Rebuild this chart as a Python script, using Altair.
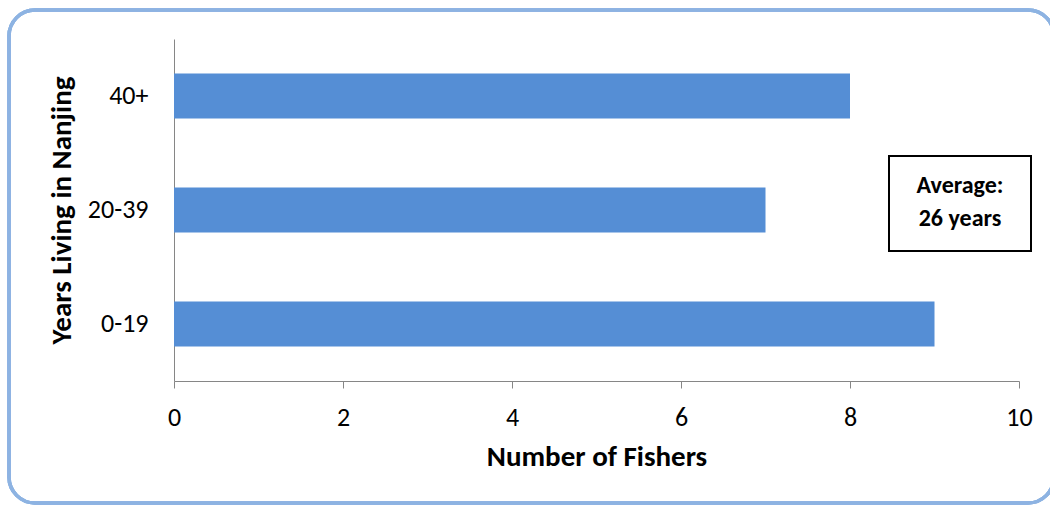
import altair as alt
import pandas as pd

# Fishers grouped by how long they have lived in Nanjing
groups = ["40+", "20-39", "0-19"]
fishers = [8, 7, 9]
avg_lines = ["Average:", "26 years"]

df = pd.DataFrame({"group": groups, "count": fishers})

FONT = "Carlito, Lato, sans-serif"
BAR = "#558ED5"
AXIS = "#868686"

W, H = 845, 342
LEFT, TOP = 174, 39

bars = alt.Chart(df).mark_bar(color=BAR, size=45).encode(
    x=alt.X("count:Q",
            scale=alt.Scale(domain=[0, 10]),
            axis=alt.Axis(title="Number of Fishers", values=[0, 2, 4, 6, 8, 10],
                          grid=False, tickSize=7, tickColor=AXIS, domainColor=AXIS,
                          labelFlush=False, labelFont=FONT,
                          labelFontSize=26, labelColor="black", labelPadding=16,
                          titleFont=FONT,
                          titleFontSize=29, titleFontWeight="bold", titleColor="black",
                          titlePadding=12)),
    y=alt.Y("group:N", sort=groups,
            axis=alt.Axis(title="Years Living in Nanjing", ticks=False, domainColor=AXIS,
                          labelFont=FONT,
                          labelFontSize=26, labelColor="black", labelPadding=26,
                          titleFont=FONT,
                          titleFontSize=29, titleFontWeight="bold", titleColor="black",
                          titlePadding=11)),
)

# rounded outer frame around the chart
frame = alt.Chart(df).mark_rect(
    fill=None, stroke="#8DB3E2", strokeWidth=3.5, cornerRadius=26, clip=False
).encode(
    x=alt.value(9 - LEFT), x2=alt.value(1054 - LEFT),
    y=alt.value(10 - TOP), y2=alt.value(503 - TOP),
)

# boxed note with the average
note_box = alt.Chart(df).mark_rect(
    fill="white", stroke="black", strokeWidth=2, clip=False
).encode(
    x=alt.value(889 - LEFT), x2=alt.value(1031 - LEFT),
    y=alt.value(156 - TOP), y2=alt.value(251 - TOP),
)

note_df = pd.DataFrame({"line": avg_lines, "ypix": [186 - TOP, 219 - TOP]})
note_text = alt.Chart(note_df).mark_text(
    font=FONT, fontSize=24, fontWeight="bold", color="black", baseline="middle",
    align="center", clip=False
).encode(
    x=alt.value(960 - LEFT), y=alt.Y("ypix:Q", scale=None), text="line:N"
)

chart = alt.layer(frame, bars, note_box, note_text).properties(
    width=W, height=H,
    autosize=alt.AutoSizeParams(type="none"),
    padding={"left": LEFT, "top": TOP, "right": 1050 - LEFT - W, "bottom": 506 - TOP - H},
).configure(font=FONT).configure_view(stroke=None)

chart.save("out.html", embed_options={"renderer": "svg", "actions": False})
